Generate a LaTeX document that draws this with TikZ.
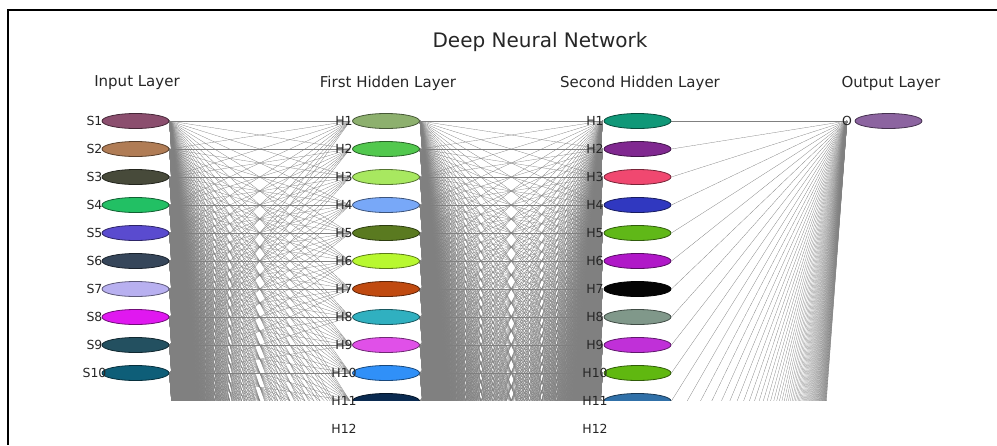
\documentclass[tikz,border=0pt]{standalone}
\usepackage{fontspec}
\setmainfont{DejaVu Sans}
\usetikzlibrary{shapes.geometric,backgrounds}
\definecolor{cS1}{HTML}{8B4E6E}
\definecolor{cS2}{HTML}{B07C55}
\definecolor{cS3}{HTML}{474A3A}
\definecolor{cS4}{HTML}{22C064}
\definecolor{cS5}{HTML}{5A4BCF}
\definecolor{cS6}{HTML}{36465A}
\definecolor{cS7}{HTML}{B8B0F0}
\definecolor{cS8}{HTML}{E018F0}
\definecolor{cS9}{HTML}{235060}
\definecolor{cS10}{HTML}{0E5E78}
\definecolor{cA1}{HTML}{8DB06E}
\definecolor{cA2}{HTML}{52C84E}
\definecolor{cA3}{HTML}{A8E860}
\definecolor{cA4}{HTML}{78A8F8}
\definecolor{cA5}{HTML}{5A7A20}
\definecolor{cA6}{HTML}{B8F830}
\definecolor{cA7}{HTML}{C04A10}
\definecolor{cA8}{HTML}{30B0C0}
\definecolor{cA9}{HTML}{E050E8}
\definecolor{cA10}{HTML}{3090F8}
\definecolor{cA11}{HTML}{0A2A50}
\definecolor{cB1}{HTML}{109878}
\definecolor{cB2}{HTML}{802890}
\definecolor{cB3}{HTML}{F04870}
\definecolor{cB4}{HTML}{3038C0}
\definecolor{cB5}{HTML}{60B818}
\definecolor{cB6}{HTML}{B018C8}
\definecolor{cB7}{HTML}{050505}
\definecolor{cB8}{HTML}{80988A}
\definecolor{cB9}{HTML}{C030D8}
\definecolor{cB10}{HTML}{60B810}
\definecolor{cB11}{HTML}{3070A8}
\definecolor{cO}{HTML}{8C64A0}
\begin{document}
\begin{tikzpicture}[x=1pt,y=-1pt,
  neuron/.style={ellipse, draw=#1!50!black, fill=#1, line width=0.8pt,
    minimum width=67pt, minimum height=15pt, inner sep=0pt},
  hidden/.style={ellipse, minimum width=67pt, minimum height=15pt, inner sep=0pt},
  edge/.style={draw=gray, line width=0.28pt},
  nlab/.style={font=\fontsize{12.5}{12.5}\selectfont, text=black!85, inner sep=0pt},
  layerlab/.style={font=\fontsize{15}{15}\selectfont, text=black!85, inner sep=0pt},
  frame/.style={draw=black, line width=2pt}]
\useasboundingbox (0,0) rectangle (997,445);

% nodes (clipped at the plot bottom)
\begin{scope}
\clip (0,0) rectangle (997,400);
\foreach \i in {1,...,10}
  \node[neuron=cS\i] (s\i) at (135.5,{121+28*(\i-1)}) {};
\foreach \k in {1,...,11}
  \node[neuron=cA\k] (h\k) at (386,{121+28*(\k-1)}) {};
\foreach \k in {12,...,100}
  \node[hidden] (h\k) at (386,{121+28*(\k-1)}) {};
\foreach \k in {1,...,11}
  \node[neuron=cB\k] (g\k) at (637.5,{121+28*(\k-1)}) {};
\foreach \k in {12,...,86}
  \node[hidden] (g\k) at (637.5,{121+28*(\k-1)}) {};
\node[neuron=cO] (o) at (888.5,121) {};
\end{scope}

\node[nlab] (olab) at (847,121) {O};

% connectors
\begin{pgfonlayer}{background}
\begin{scope}
\clip (0,0) rectangle (997,400);
\foreach \i in {1,...,10}
  \foreach \k in {1,...,100}
    \draw[edge] (s\i.east) -- ([xshift=-2pt]h\k.west);
\foreach \k in {1,...,11}
  \foreach \j in {1,...,86}
    \draw[edge] (h\k.east) -- ([xshift=-1pt]g\j.west);
\foreach \k in {12,...,100}
  \foreach \j in {1,...,11}
    \draw[edge] (h\k.east) -- ([xshift=-1pt]g\j.west);
\foreach \j in {1,...,86}
  \draw[edge] (g\j.east) -- (olab.center);
\end{scope}
\end{pgfonlayer}

% labels
\foreach \i in {1,...,10}
  \node[nlab] (ls\i) at (94.5,{121+28*(\i-1)}) {S\i};
\foreach \k in {1,...,12}
  \node[nlab] (la\k) at (344,{121+28*(\k-1)}) {H\k};
\foreach \k in {1,...,12}
  \node[nlab] (lb\k) at (595,{121+28*(\k-1)}) {H\k};

\node[font=\fontsize{20}{20}\selectfont, text=black!85] (title) at (540,42) {Deep Neural Network};
\node[layerlab] (l1) at (137,83) {Input Layer};
\node[layerlab] (l2) at (388,83) {First Hidden Layer};
\node[layerlab] (l3) at (640,83) {Second Hidden Layer};
\node[layerlab] (l4) at (891,83) {Output Layer};

% frame
\draw[frame] (997,10) -- (8,10) -- (8,445);
\end{tikzpicture}
\end{document}
